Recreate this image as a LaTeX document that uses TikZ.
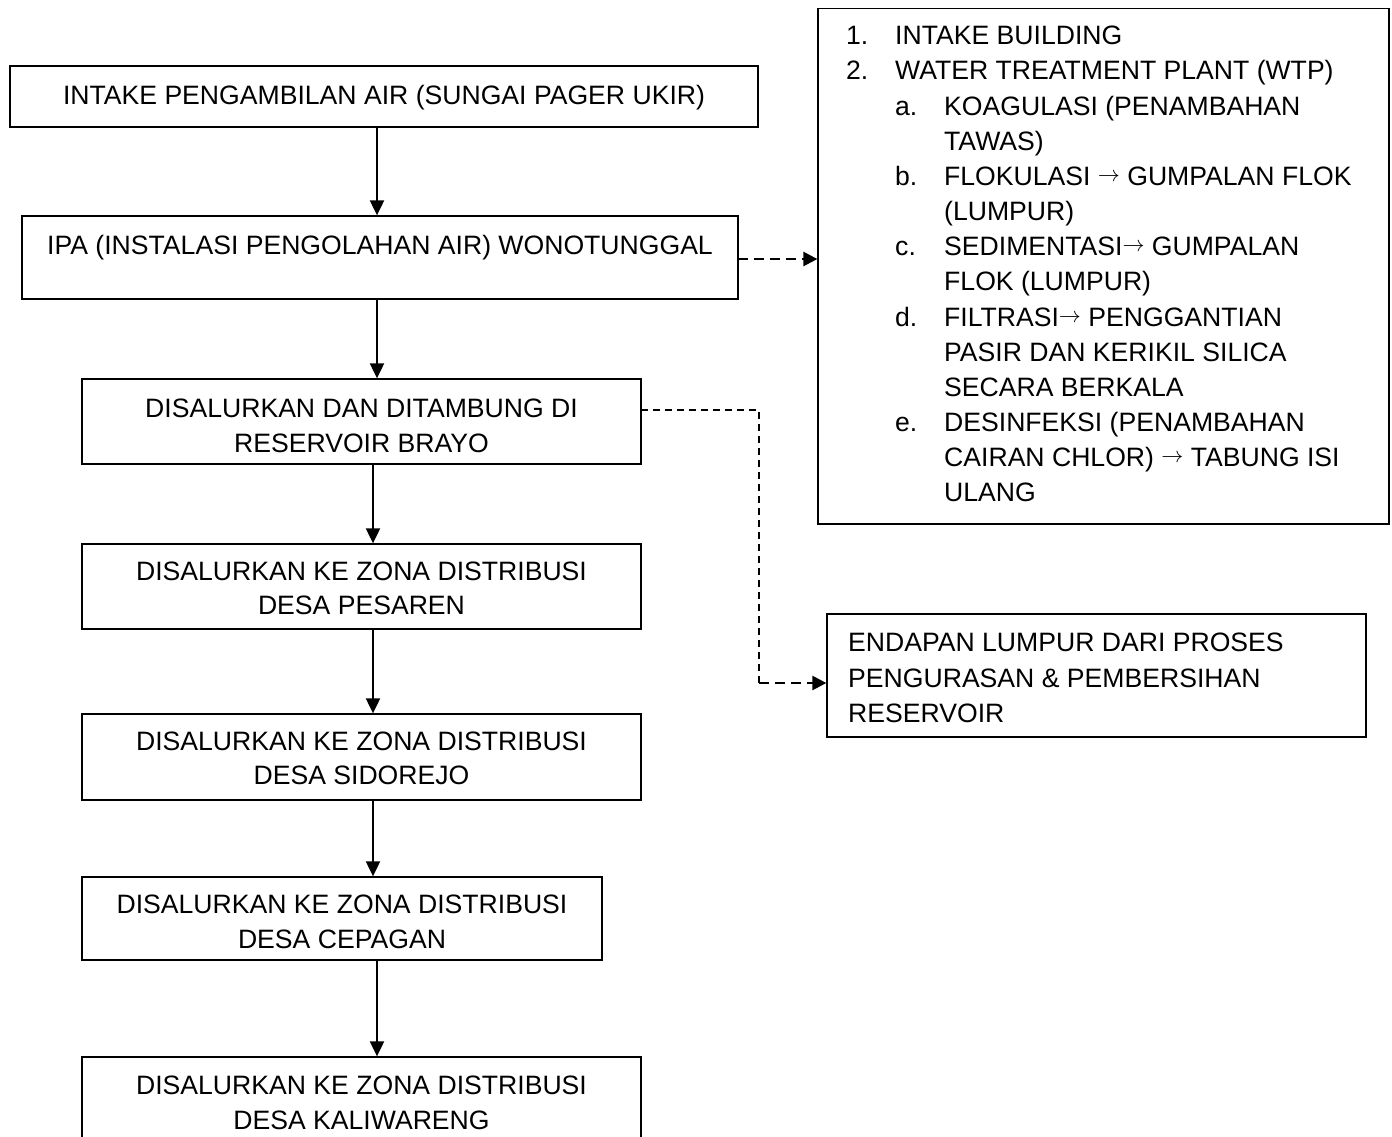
\documentclass[tikz,border=0pt]{standalone}
\usepackage{graphicx}
\usepackage{fontspec}
\setmainfont{Liberation Sans}
\usetikzlibrary{arrows.meta}
\newcommand\rarr{\raisebox{4pt}{\scalebox{2.2}{\fontsize{10pt}{12pt}\selectfont$\rightarrow$}}}
\begin{document}
\begin{tikzpicture}[x=1pt,y=-1pt,
  box/.style={draw,line width=1.3pt,inner sep=0pt,rectangle},
  txt/.style={inner sep=0pt,font=\fontsize{26.6pt}{34.5pt}\selectfont},
  ltxt/.style={inner sep=0pt,anchor=north west,font=\fontsize{26.6pt}{35.15pt}\selectfont},
  etxt/.style={inner sep=0pt,anchor=north west,font=\fontsize{26.6pt}{35.5pt}\selectfont},
  arr/.style={line width=2pt,-{Triangle[length=15pt,width=14pt]}},
  darr/.style={line width=2.5pt,dash pattern=on 10pt off 6pt,-{Triangle[length=14pt,width=14pt]}},
  thindash/.style={line width=1.2pt,dash pattern=on 7pt off 5pt}]
\clip (0,0) rectangle (1392,1137);
\fill[white] (0,0) rectangle (1392,1137);

% left column boxes
\node[box,minimum width=748pt,minimum height=61pt] (b1) at (384,96.5) {};
\node[box,minimum width=716pt,minimum height=83pt] (b2) at (380,257.5) {};
\node[box,minimum width=559pt,minimum height=85pt] (b3) at (361.5,421.5) {};
\node[box,minimum width=559pt,minimum height=85pt] (b4) at (361.5,586.5) {};
\node[box,minimum width=559pt,minimum height=86pt] (b5) at (361.5,757) {};
\node[box,minimum width=520pt,minimum height=83pt] (b6) at (342,918.5) {};
\node[box,minimum width=559pt,minimum height=120pt] (b7) at (361.5,1117) {};

\node[txt] (t1) at (384,97.6) {\begin{tabular}{@{}c@{}}INTAKE PENGAMBILAN AIR (SUNGAI PAGER UKIR)\end{tabular}};
\node[txt] (t2) at (380,247.6) {\begin{tabular}{@{}c@{}}IPA (INSTALASI PENGOLAHAN AIR) WONOTUNGGAL\end{tabular}};
\node[txt] (t3) at (361.5,428) {\begin{tabular}{@{}c@{}}DISALURKAN DAN DITAMBUNG DI\\RESERVOIR BRAYO\end{tabular}};
\node[txt] (t4) at (361.5,590.6) {\begin{tabular}{@{}c@{}}DISALURKAN KE ZONA DISTRIBUSI\\DESA PESAREN\end{tabular}};
\node[txt] (t5) at (361.5,760.6) {\begin{tabular}{@{}c@{}}DISALURKAN KE ZONA DISTRIBUSI\\DESA SIDOREJO\end{tabular}};
\node[txt] (t6) at (342,924) {\begin{tabular}{@{}c@{}}DISALURKAN KE ZONA DISTRIBUSI\\DESA CEPAGAN\end{tabular}};
\node[txt] (t7) at (361.5,1105) {\begin{tabular}{@{}c@{}}DISALURKAN KE ZONA DISTRIBUSI\\DESA KALIWARENG\end{tabular}};

% right boxes
\node[box,minimum width=571pt,minimum height=515.5pt] (r1) at (1103.5,266.25) {};
\node[box,minimum width=539pt,minimum height=123pt] (r2) at (1096.5,675.5) {};

\node[ltxt] (list) at (846,20) {\begin{tabular}{@{}p{49pt}@{}p{49pt}@{}l@{}}
1. & \multicolumn{2}{@{}l@{}}{INTAKE BUILDING}\\
2. & \multicolumn{2}{@{}l@{}}{WATER TREATMENT PLANT (WTP)}\\
 & a. & KOAGULASI (PENAMBAHAN\\
 & & TAWAS)\\
 & b. & FLOKULASI \rarr{} GUMPALAN FLOK\\
 & & (LUMPUR)\\
 & c. & SEDIMENTASI\rarr{} GUMPALAN\\
 & & FLOK (LUMPUR)\\
 & d. & FILTRASI\rarr{} PENGGANTIAN\\
 & & PASIR DAN KERIKIL SILICA\\
 & & SECARA BERKALA\\
 & e. & DESINFEKSI (PENAMBAHAN\\
 & & CAIRAN CHLOR) \rarr{} TABUNG ISI\\
 & & ULANG
\end{tabular}};

\node[etxt] (endtxt) at (848,626.6) {\begin{tabular}{@{}l@{}}ENDAPAN LUMPUR DARI PROSES\\PENGURASAN \& PEMBERSIHAN\\RESERVOIR\end{tabular}};

% connectors
\coordinate (xa) at (377,0);
\coordinate (xb) at (373,0);
\draw[arr] (b1.south -| xa) -- (b2.north -| xa);
\draw[arr] (b2.south -| xa) -- (b3.north -| xa);
\draw[arr] (b3.south -| xb) -- (b4.north -| xb);
\draw[arr] (b4.south -| xb) -- (b5.north -| xb);
\draw[arr] (b5.south -| xb) -- (b6.north -| xb);
\draw[arr] (b6.south -| xa) -- (b7.north -| xa);

\coordinate (d0) at (738,259);
\draw[darr] (d0) -- (d0 -| r1.west);

\coordinate (e0) at (641,410);
\coordinate (e1) at (759,410);
\coordinate (e2) at (759,683);
\draw[thindash] (e0) -- (e1) -- (e2);
\draw[darr] (e2) -- (e2 -| r2.west);
\end{tikzpicture}
\end{document}
